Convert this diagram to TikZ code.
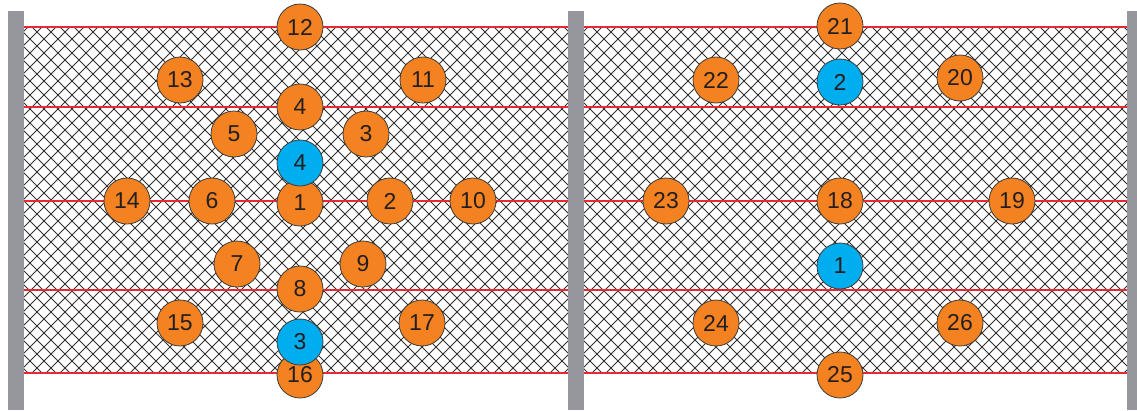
\documentclass[tikz,border=0pt]{standalone}
\usepackage{fontspec}
\setmainfont{Liberation Sans}
\definecolor{orng}{RGB}{245,130,32}
\definecolor{cblue}{RGB}{0,174,239}
\definecolor{postc}{RGB}{150,151,156}
\definecolor{redl}{RGB}{232,40,50}
\definecolor{meshc}{RGB}{50,50,50}
\definecolor{rim}{RGB}{60,60,60}
\definecolor{txt}{RGB}{35,31,32}
\begin{document}
\begin{tikzpicture}[x=1pt,y=-1pt,
  ball/.style={circle, draw=rim, line width=0.8pt, minimum size=46pt, inner sep=0pt,
    font=\fontsize{23}{23}\selectfont, text=txt},
  org/.style={ball, fill=orng},
  blueball/.style={ball, fill=cblue},
  meshline/.style={draw=meshc, line width=0.8pt},
  redline/.style={draw=redl, line width=1.7pt},
  post/.style={fill=postc}]
\useasboundingbox (0,0) rectangle (1137,410);
\fill[white] (0,0) rectangle (1137,410);
% mesh
\begin{scope}
\clip (24,27) rectangle (568,373) (584,27) rectangle (1127,373);
\foreach \i in {-26,...,82} {
  \draw[meshline] (\i*14+4,27) -- ++(346,346);
  \draw[meshline] (\i*14+4,373) -- ++(346,-346);
}
\end{scope}
% red wires
\foreach \y in {27,107,201,290,373} {
  \draw[redline] (24,\y) -- (1127,\y);
}
% posts
\fill[post] (8,11) rectangle (24,410);
\fill[post] (568,11) rectangle (584,410);
\fill[post] (1127,11) rectangle (1137,410);
% left panel orange
\node[org] (n12) at (300,27) {12};
\node[org] (n13) at (180,80) {13};
\node[org] (n11) at (423,80) {11};
\node[org] (n4) at (300,107) {4};
\node[org] (n5) at (234,134) {5};
\node[org] (n3) at (366,134) {3};
\node[org] (n14) at (127,201) {14};
\node[org] (n6) at (212,201) {6};
\node[org] (n1) at (300,203) {1};
\node[org] (n2) at (390,201) {2};
\node[org] (n10) at (473,201) {10};
\node[org] (n7) at (237,264) {7};
\node[org] (n9) at (363,264) {9};
\node[org] (n8) at (300,289) {8};
\node[org] (n15) at (180,323) {15};
\node[org] (n17) at (422,323) {17};
\node[org] (n16) at (300,375) {16};
% left panel blue
\node[blueball] (b4) at (300,163) {4};
\node[blueball] (b3) at (300,342) {3};
% right panel orange
\node[org] (n21) at (840,26) {21};
\node[org] (n22) at (716,80) {22};
\node[org] (n20) at (960,78) {20};
\node[org] (n23) at (666,201) {23};
\node[org] (n18) at (840,201) {18};
\node[org] (n19) at (1012,201) {19};
\node[org] (n24) at (716,323) {24};
\node[org] (n26) at (960,323) {26};
\node[org] (n25) at (840,375) {25};
% right panel blue
\node[blueball] (b2) at (840,82) {2};
\node[blueball] (b1) at (840,266) {1};
\end{tikzpicture}
\end{document}
